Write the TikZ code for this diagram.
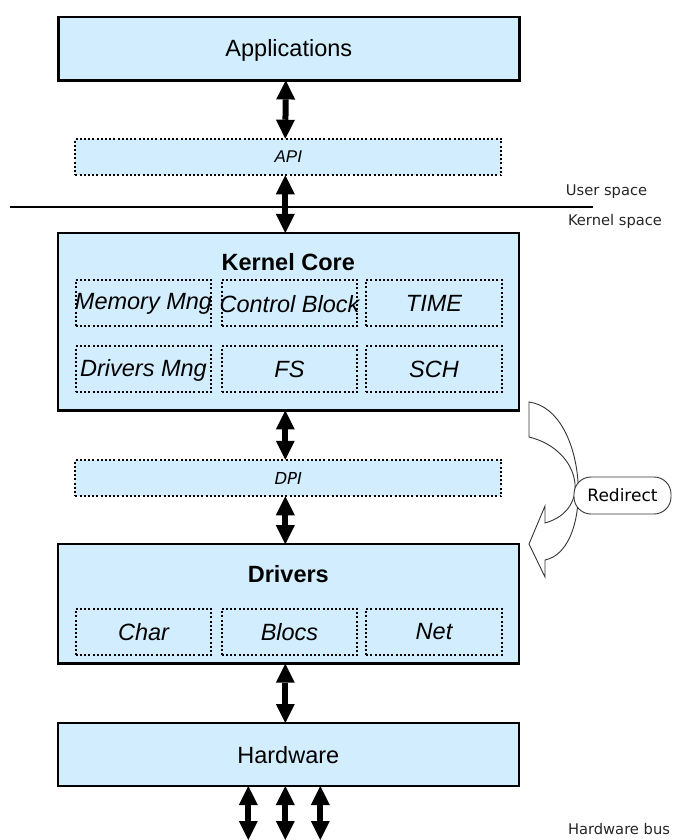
\documentclass[tikz,border=0pt]{standalone}
\usepackage{fontspec}
\setmainfont{Liberation Sans}
\newfontfamily\dejavu{DejaVu Sans}
\usetikzlibrary{arrows.meta}
\definecolor{boxblue}{RGB}{210,237,253}
\begin{document}
\begin{tikzpicture}[x=1pt,y=-1pt,
  layer/.style={rectangle, draw=black, line width=2.6pt, fill=boxblue, inner sep=0pt, outer sep=0pt, minimum width=461pt},
  iface/.style={rectangle, draw=black, line width=2pt, dash pattern=on 2pt off 2.2pt, fill=boxblue, inner sep=0pt, outer sep=0pt, minimum width=426pt, minimum height=36.5pt, font=\fontsize{17}{17}\selectfont\itshape},
  subbox/.style={rectangle, draw=black, line width=2pt, dash pattern=on 2pt off 2.2pt, inner sep=0pt, outer sep=0pt, minimum width=135.5pt, minimum height=46pt, font=\fontsize{23.5}{23.5}\selectfont\itshape},
  big/.style={font=\fontsize{23.5}{23.5}\selectfont},
  bigi/.style={font=\fontsize{23.5}{23.5}\selectfont\itshape},
  bigb/.style={font=\fontsize{23.5}{23.5}\selectfont\bfseries},
  lbl/.style={font=\dejavu\fontsize{14.7}{14.7}\selectfont, text=black!85, inner sep=0pt},
  dbl/.style={{Triangle[length=19pt,width=19pt,line width=0pt]}-{Triangle[length=19pt,width=19pt,line width=0pt]}, line width=6pt},
  redir/.style={draw=black!80, line width=0.9pt, fill=white},
  redirnode/.style={rectangle, rounded corners=17pt, draw=black!80, line width=0.9pt, fill=white, minimum width=97pt, minimum height=37pt, inner sep=0pt, font=\dejavu\fontsize{17}{17}\selectfont}
]
\useasboundingbox (0,0) rectangle (672,840);

% layers
\node[layer, minimum height=63.5pt] (app) at (288.8,48.7) {};
\node[big] (apptxt) at (288.8,50) {Applications};

\node[iface] (api) at (288.3,157) {API};

\node[layer, minimum height=177.5pt] (kernel) at (288.3,321.7) {};
\node[bigb] (kerneltxt) at (288.3,262) {Kernel Core};
\node[subbox] (mem) at (143.5,303) {};
\node[bigi] (memtxt) at (143.5,304) {Memory Mng};
\node[subbox] (cb) at (289.5,303) {};
\node[bigi] (cbtxt) at (289.5,304) {Control Block};
\node[subbox] (time) at (434,303) {TIME};
\node[subbox] (drvm) at (143.5,369.3) {};
\node[bigi] (drvmtxt) at (143.5,370) {Drivers Mng};
\node[subbox] (fs) at (289.5,369.3) {FS};
\node[subbox] (sch) at (434,369.3) {SCH};

\node[iface] (dpi) at (288.3,478) {\dejavu\fontsize{16.5}{16.5}\selectfont\itshape DPI};

\node[layer, minimum height=119.5pt] (drivers) at (288.3,603.9) {};
\node[bigb] (driverstxt) at (288.3,574) {Drivers};
\node[subbox] (char) at (143.5,632) {Char};
\node[subbox] (blocs) at (289.5,632) {Blocs};
\node[subbox] (net) at (434,632) {Net};

\node[layer, minimum height=63pt] (hw) at (288.3,754.5) {};
\node[big] (hwtxt) at (288.3,755.5) {Hardware};

% arrows
\draw[dbl] ([xshift=-3pt]app.south) -- ([xshift=-3pt]api.north);
\draw[dbl] ([xshift=-3pt]api.south) -- ([xshift=-3pt]kernel.north);
\draw[dbl] ([xshift=-3pt]kernel.south) -- ([xshift=-3pt]dpi.north);
\draw[dbl] ([xshift=-3pt]dpi.south) -- ([xshift=-3pt]drivers.north);
\draw[dbl] ([xshift=-3pt]drivers.south) -- ([xshift=-3pt]hw.north);
\coordinate (bus1) at (248.3,840);
\coordinate (bus2) at (285.3,840);
\coordinate (bus3) at (320.3,840);
\draw[dbl] (hw.south -| bus1) -- (bus1);
\draw[dbl] (hw.south -| bus2) -- (bus2);
\draw[dbl] (hw.south -| bus3) -- (bus3);

% user/kernel separator
\coordinate (sepL) at (10,207);
\coordinate (sepR) at (593,207);
\draw[line width=2.6pt] (sepL) -- (sepR);
\node[lbl] (us) at (606.5,192) {User space};
\node[lbl] (ks) at (615,221.5) {Kernel space};
\node[lbl] (hwbus) at (619,829) {Hardware bus};

% redirect
\draw[redir] (529,402) .. controls (588,410) and (595,550) .. (545,560) -- (545,577) -- (529,544) -- (545,506) -- (545,523) .. controls (592,510) and (582,450) .. (529,437) -- cycle;
\node[redirnode] (redirect) at (622.5,495.5) {Redirect};
\end{tikzpicture}
\end{document}
